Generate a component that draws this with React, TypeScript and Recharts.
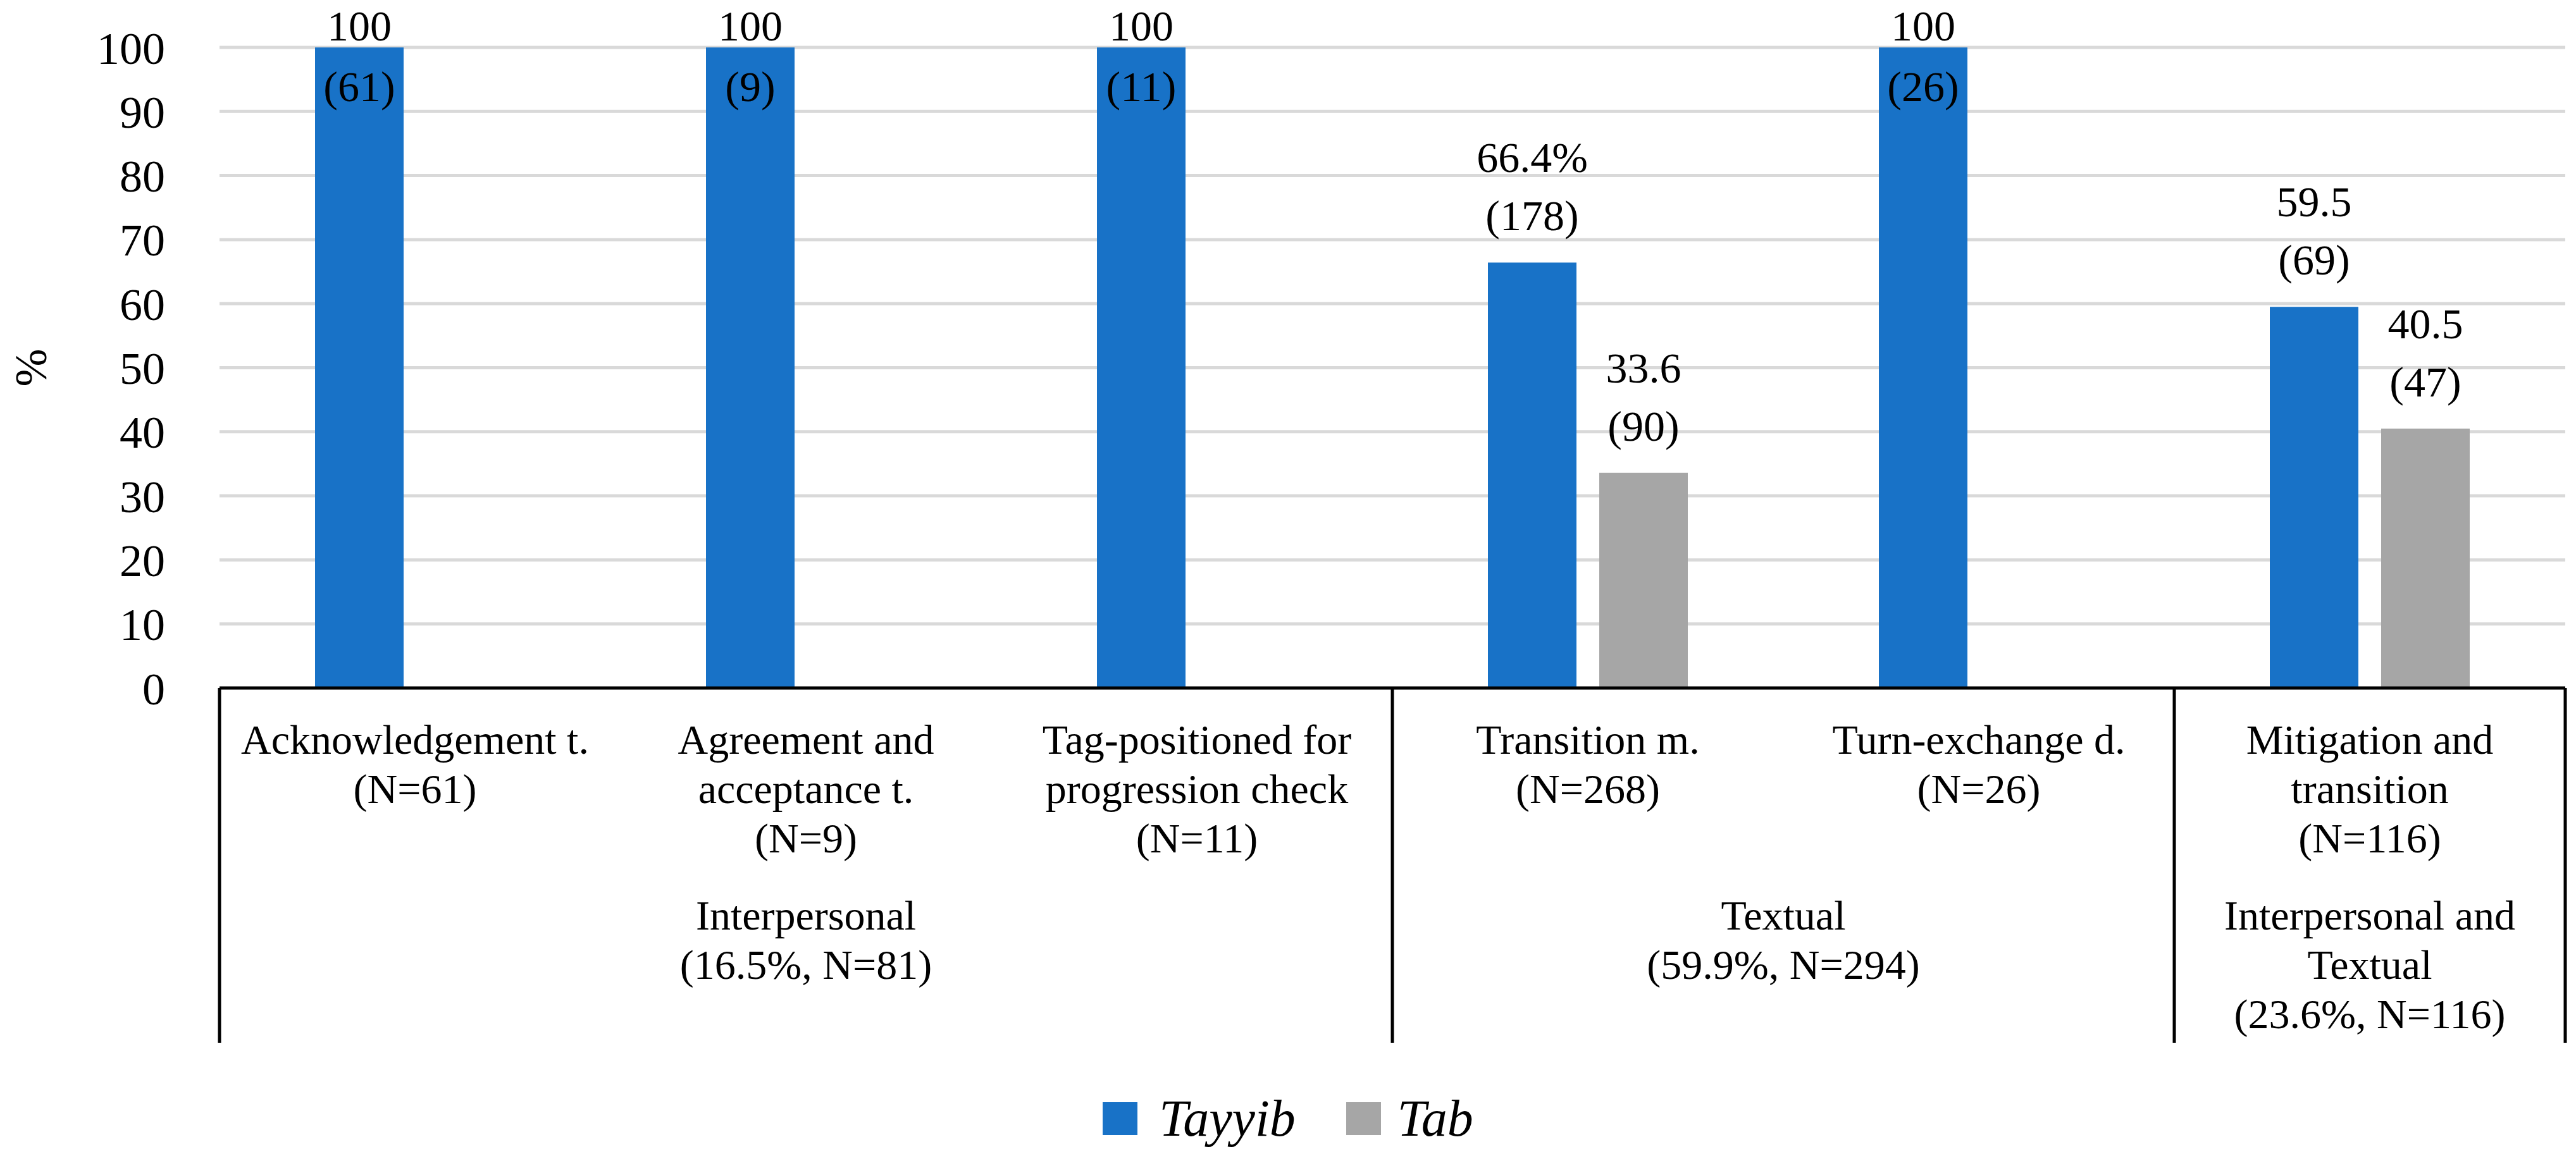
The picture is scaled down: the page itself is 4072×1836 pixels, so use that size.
import React from 'react';
import { BarChart, Bar, XAxis, YAxis, CartesianGrid, Legend, LabelList } from 'recharts';

const categoryLines = [
  ['Acknowledgement t.', '(N=61)'],
  ['Agreement and', 'acceptance t.', '(N=9)'],
  ['Tag-positioned for', 'progression check', '(N=11)'],
  ['Transition m.', '(N=268)'],
  ['Turn-exchange d.', '(N=26)'],
  ['Mitigation and', 'transition', '(N=116)'],
];
const tayyibValues = [100, 100, 100, 66.4, 100, 59.5];
const tabValues = [null, null, null, 33.6, null, 40.5];
const tayyibLabels = ['100', '100', '100', '66.4%', '100', '59.5'];
const tayyibCounts = ['(61)', '(9)', '(11)', '(178)', '(26)', '(69)'];
const tabLabels = [null, null, null, '33.6', null, '40.5'];
const tabCounts = [null, null, null, '(90)', null, '(47)'];
const groupLines = [
  ['Interpersonal', '(16.5%, N=81)'],
  ['Textual', '(59.9%, N=294)'],
  ['Interpersonal and', 'Textual', '(23.6%, N=116)'],
];
const groupSizes = [3, 2, 1];
const yTicks = [0, 10, 20, 30, 40, 50, 60, 70, 80, 90, 100];

const W = 4072;
const H = 1836;
const MARGIN = { top: 75, right: 17, left: 0, bottom: 22 };
const Y_WIDTH = 347;
const X_HEIGHT = 636;
const BAND = (W - MARGIN.left - MARGIN.right - Y_WIDTH) / categoryLines.length;
const PLOT_H = H - MARGIN.top - MARGIN.bottom - X_HEIGHT - 90;
const FONT = '"Liberation Serif", "Times New Roman", serif';
const BLUE = '#1872C7';
const GRAY = '#A6A6A6';

const data = categoryLines.map((lines, i) => ({
  cat: lines.join(' '),
  tayyib: tayyibValues[i],
  tab: tabValues[i],
  tayyibTop: tayyibLabels[i],
  tayyibBottom: tayyibCounts[i],
  tabTop: tabLabels[i],
  tabBottom: tabCounts[i],
}));

const groupStarts = groupSizes.map((_, g) => groupSizes.slice(0, g).reduce((a, b) => a + b, 0));

const CategoryTick = (props: any) => {
  const { x, y, index } = props;
  const lines = categoryLines[index];
  const g = groupStarts.indexOf(index);
  const lineBottom = y + 561;
  return (
    <g>
      {lines.map((t, k) => (
        <text key={k} x={x} y={y + 104 + k * 78} textAnchor="middle" fontSize={66} fontFamily={FONT} fill="#000">
          {t}
        </text>
      ))}
      {g >= 0 && (
        <g>
          <line x1={x - BAND / 2} x2={x - BAND / 2} y1={y} y2={lineBottom} stroke="#000" strokeWidth={5} />
          {groupLines[g].map((t, k) => (
            <text
              key={k}
              x={x + ((groupSizes[g] - 1) * BAND) / 2}
              y={y + 382 + k * 78}
              textAnchor="middle"
              fontSize={66}
              fontFamily={FONT}
              fill="#000"
            >
              {t}
            </text>
          ))}
        </g>
      )}
      {index === categoryLines.length - 1 && (
        <line x1={x + BAND / 2} x2={x + BAND / 2} y1={y} y2={lineBottom} stroke="#000" strokeWidth={5} />
      )}
    </g>
  );
};

// line 0 = value above, line 1 = count; full-height bars get their count inside the bar
const makeLabel = (line: number) => (props: any) => {
  const { x, y, width, height, value } = props;
  if (value == null || value === '') return null;
  const full = Number(height) >= PLOT_H - 2;
  const dy = full ? (line === 0 ? -11 : 85) : line === 0 ? -143 : -51;
  return (
    <text x={x + width / 2} y={y + dy} textAnchor="middle" fontSize={68} fontFamily={FONT} fill="#000">
      {value}
    </text>
  );
};

const renderLegend = () => (
  <div
    style={{
      display: 'flex',
      justifyContent: 'center',
      alignItems: 'center',
      height: 90,
      fontFamily: FONT,
      fontStyle: 'italic',
      fontSize: 82,
      color: '#000',
    }}
  >
    <span style={{ width: 55, height: 52, background: BLUE, display: 'inline-block' }} />
    <span style={{ marginLeft: 34 }}>Tayyib</span>
    <span style={{ width: 55, height: 52, background: GRAY, display: 'inline-block', marginLeft: 80 }} />
    <span style={{ marginLeft: 26 }}>Tab</span>
  </div>
);

export default function App() {
  return (
    <div style={{ position: 'absolute', left: 0, top: 0, background: '#fff' }}>
      <BarChart width={W} height={H} data={data} margin={MARGIN} barGap={36}>
        <CartesianGrid vertical={false} stroke="#D9D9D9" strokeWidth={5} />
        <XAxis
          dataKey="cat"
          interval={0}
          tickLine={false}
          tickSize={0}
          tickMargin={0}
          height={X_HEIGHT}
          axisLine={{ stroke: '#000', strokeWidth: 5 }}
          tick={<CategoryTick />}
        />
        <YAxis
          domain={[0, 100]}
          ticks={yTicks}
          width={Y_WIDTH}
          axisLine={false}
          tickLine={false}
          tickSize={0}
          tickMargin={86}
          tick={{ fontSize: 72, fontFamily: FONT, fill: '#000' }}
          label={{
            content: ({ viewBox }: any) => (
              <text
                x={viewBox.x + 49}
                y={viewBox.y + viewBox.height / 2}
                transform={`rotate(-90, ${viewBox.x + 49}, ${viewBox.y + viewBox.height / 2})`}
                textAnchor="middle"
                dominantBaseline="central"
                fontSize={72}
                fontFamily={FONT}
                fill="#000"
              >
                %
              </text>
            ),
          }}
        />
        <Legend verticalAlign="bottom" content={renderLegend} wrapperStyle={{ left: 0, width: W }} />
        <Bar dataKey="tayyib" name="Tayyib" fill={BLUE} barSize={140} isAnimationActive={false}>
          <LabelList dataKey="tayyibTop" content={makeLabel(0)} />
          <LabelList dataKey="tayyibBottom" content={makeLabel(1)} />
        </Bar>
        <Bar dataKey="tab" name="Tab" fill={GRAY} barSize={140} isAnimationActive={false}>
          <LabelList dataKey="tabTop" content={makeLabel(0)} />
          <LabelList dataKey="tabBottom" content={makeLabel(1)} />
        </Bar>
      </BarChart>
    </div>
  );
}
